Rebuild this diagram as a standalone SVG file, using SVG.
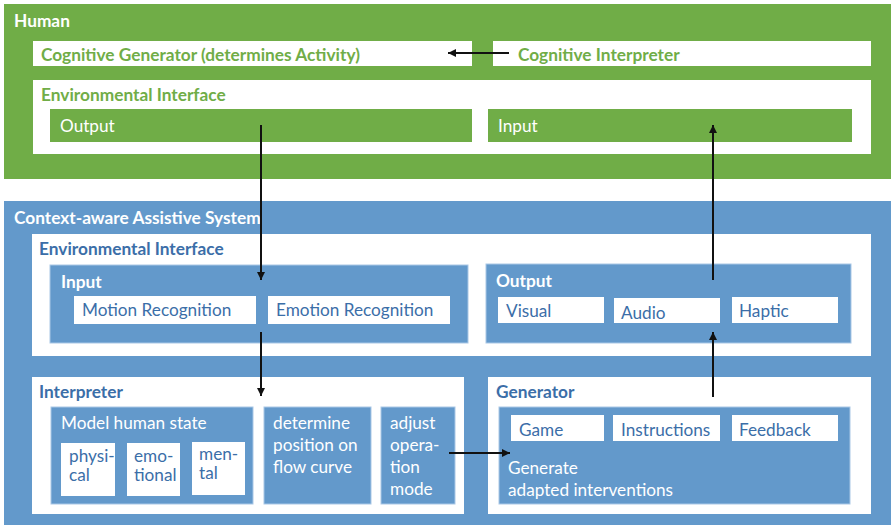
<svg xmlns="http://www.w3.org/2000/svg" width="891" height="527" viewBox="0 0 891 527">
<defs>
<marker id="ah" viewBox="0 0 10 10" refX="10" refY="5" markerWidth="4" markerHeight="4" orient="auto" markerUnits="strokeWidth"><path d="M0,0 L10,5 L0,10 z" fill="#111"/></marker>
<style>
text{font-family:Lato,"Open Sans","Liberation Sans",sans-serif;font-size:17.2px}
.b{font-weight:bold;font-size:17.3px}
.g{fill:#70AD47}
.bl{fill:#6399CB}
.w{fill:#fff}
.tw{fill:#fff}
.tg{fill:#70AD47}
.tb{fill:#3B6EA8}
.bs{stroke:#A9C7E6;stroke-width:1}
.c{stroke:#111;stroke-width:2;fill:none;marker-end:url(#ah)}
</style>
</defs>
<rect width="891" height="527" fill="#fff"/>
<g id="human">
<rect class="g" x="4" y="4" width="887" height="175"/>
<text class="b tw" x="14" y="27">Human</text>
</g>
<g id="cog-gen">
<rect class="w" x="33" y="41" width="439" height="25"/>
<text class="b tg" x="41" y="61">Cognitive Generator (determines Activity)</text>
</g>
<g id="cog-int">
<rect class="w" x="493" y="41" width="378" height="25"/>
<text class="b tg" x="518" y="61">Cognitive Interpreter</text>
</g>
<g id="h-env">
<rect class="w" x="33" y="80" width="838" height="74"/>
<text class="b tg" x="41" y="101">Environmental Interface</text>
</g>
<g id="h-output">
<rect class="g" x="50" y="109" width="422" height="33"/>
<text class="tw" x="60" y="132">Output</text>
</g>
<g id="h-input">
<rect class="g" x="488" y="109" width="364" height="33"/>
<text class="tw" x="498" y="132">Input</text>
</g>
<g id="cas">
<rect class="bl" x="4" y="201" width="887" height="324"/>
<text class="b tw" x="14" y="224">Context-aware Assistive System</text>
</g>
<g id="s-env">
<rect class="w" x="32" y="234" width="839" height="122"/>
<text class="b tb" x="39" y="255">Environmental Interface</text>
</g>
<g id="s-input">
<rect class="bl bs" x="50" y="265" width="418" height="78"/>
<text class="b tw" x="61" y="288">Input</text>
</g>
<g id="motion">
<rect class="w" x="74" y="296" width="182" height="28"/>
<text class="tb" x="82" y="316">Motion Recognition</text>
</g>
<g id="emotion">
<rect class="w" x="268" y="296" width="182" height="28"/>
<text class="tb" x="276" y="316">Emotion Recognition</text>
</g>
<g id="s-output">
<rect class="bl bs" x="486" y="264" width="365" height="79"/>
<text class="b tw" x="496" y="287">Output</text>
</g>
<g id="visual">
<rect class="w" x="498" y="297" width="106" height="26"/>
<text class="tb" x="506" y="317">Visual</text>
</g>
<g id="audio">
<rect class="w" x="614" y="298" width="106" height="25"/>
<text class="tb" x="621" y="319">Audio</text>
</g>
<g id="haptic">
<rect class="w" x="732" y="297" width="106" height="26"/>
<text class="tb" x="739" y="317">Haptic</text>
</g>
<g id="interpreter">
<rect class="w" x="32" y="377" width="432" height="137"/>
<text class="b tb" x="39" y="398">Interpreter</text>
</g>
<g id="model">
<rect class="bl bs" x="51" y="407" width="202" height="97"/>
<text class="tw" x="61" y="429">Model human state</text>
</g>
<g id="physical">
<rect class="w" x="61" y="443" width="54" height="53"/>
<text class="tb" x="69" y="462">physi-</text>
<text class="tb" x="69" y="481">cal</text>
</g>
<g id="emotional">
<rect class="w" x="127" y="443" width="53" height="53"/>
<text class="tb" x="134" y="462">emo-</text>
<text class="tb" x="134" y="481">tional</text>
</g>
<g id="mental">
<rect class="w" x="192" y="442" width="53" height="53"/>
<text class="tb" x="199" y="460">men-</text>
<text class="tb" x="199" y="479">tal</text>
</g>
<g id="determine">
<rect class="bl bs" x="264" y="407" width="107" height="97"/>
<text class="tw" x="273" y="429">determine</text>
<text class="tw" x="273" y="451">position on</text>
<text class="tw" x="273" y="473">flow curve</text>
</g>
<g id="adjust">
<rect class="bl bs" x="381" y="407" width="74" height="97"/>
<text class="tw" x="390" y="429">adjust</text>
<text class="tw" x="390" y="451">opera-</text>
<text class="tw" x="390" y="473">tion</text>
<text class="tw" x="390" y="495">mode</text>
</g>
<g id="generator">
<rect class="w" x="488" y="377" width="383" height="137"/>
<text class="b tb" x="496" y="398">Generator</text>
</g>
<g id="gen-inner">
<rect class="bl bs" x="499" y="407" width="351" height="97"/>
<text class="tw" x="508" y="474">Generate</text>
<text class="tw" x="508" y="496">adapted interventions</text>
</g>
<g id="game">
<rect class="w" x="511" y="415" width="93" height="26"/>
<text class="tb" x="519" y="436">Game</text>
</g>
<g id="instructions">
<rect class="w" x="613" y="415" width="107" height="26"/>
<text class="tb" x="621" y="436">Instructions</text>
</g>
<g id="feedback">
<rect class="w" x="732" y="415" width="106" height="26"/>
<text class="tb" x="739" y="436">Feedback</text>
</g>
<g id="connectors">
<line class="c" x1="509" y1="53" x2="448" y2="53"/>
<line class="c" x1="261" y1="125" x2="261" y2="280"/>
<line class="c" x1="713" y1="280" x2="713" y2="125"/>
<line class="c" x1="261" y1="332" x2="261" y2="396"/>
<line class="c" x1="713" y1="397" x2="713" y2="332"/>
<line class="c" x1="449" y1="453" x2="510" y2="453"/>
</g>
</svg>
